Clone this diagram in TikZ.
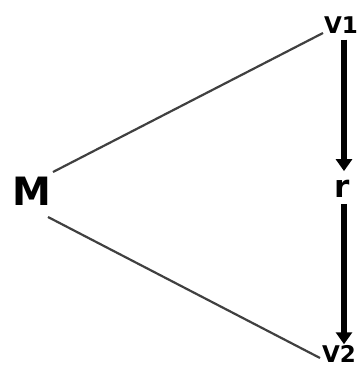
\documentclass[tikz,border=0pt]{standalone}
\usepackage{fontspec}
\setmainfont{DejaVu Sans}
\usetikzlibrary{arrows.meta}
\tikzset{
  vertex/.style    = {inner sep=0pt, font=\fontsize{23}{25}\selectfont\bfseries},
  bigvertex/.style = {inner sep=0pt, font=\fontsize{39}{41}\selectfont\bfseries},
  link/.style      = {line width=2.2pt, black!75},
  flow/.style      = {line width=5.5pt, -{Triangle[length=12pt, width=16pt]}}
}

\begin{document}
\begin{tikzpicture}[x=1pt, y=-1pt]
  \useasboundingbox (0,0) rectangle (359,369);
  \node[bigvertex] (M)  at (32,191)  {M};
  \node[vertex]    (V1) at (341,25)  {V1};
  \node[vertex, font=\fontsize{31}{33}\selectfont\bfseries] (r) at (342,189) {r};
  \node[vertex]    (V2) at (339,354) {V2};
  \coordinate (m1) at (53,172);
  \coordinate (m2) at (48,217);
  \coordinate (v1) at (323,33);
  \coordinate (v2) at (320,358);
  \draw[link] (m1) -- (v1);
  \draw[link] (m2) -- (v2);
  \draw[flow] ([yshift=-6pt]V1.south -| 344,0) -- ([yshift=9pt]r.north -| 344,0);
  \draw[flow] ([yshift=-6pt]r.south -| 344,0) -- ([yshift=1pt]V2.north -| 344,0);
\end{tikzpicture}
\end{document}
